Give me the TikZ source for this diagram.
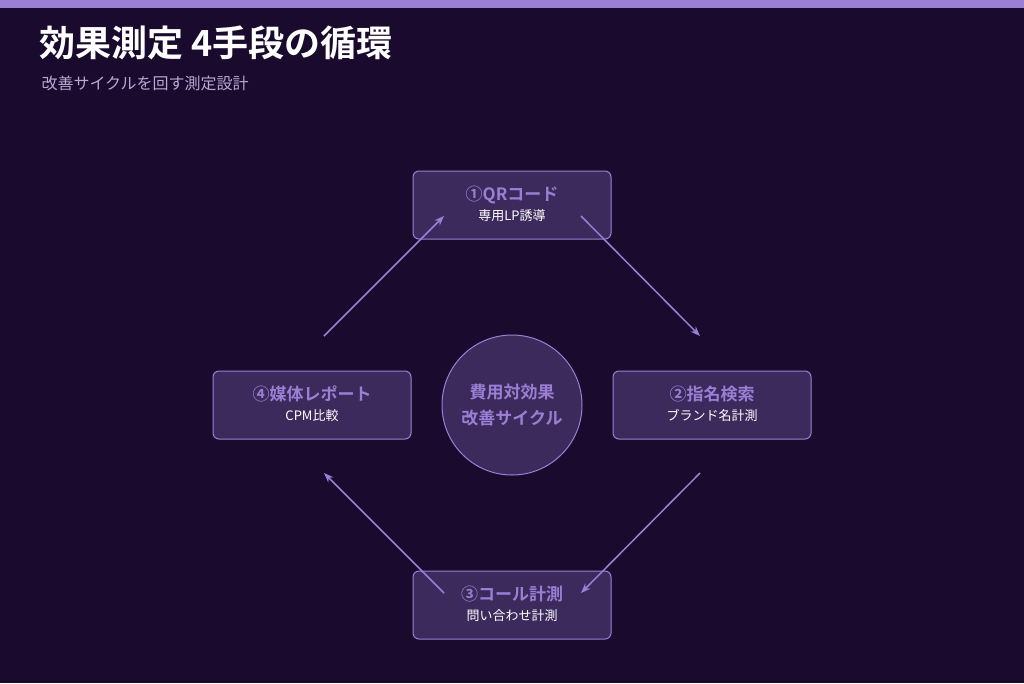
\documentclass[tikz,border=0pt]{standalone}
\usepackage{fontspec}
\setmainfont{Noto Sans CJK JP}[BoldFont={* Bold}]
\usetikzlibrary{arrows.meta, positioning}
\definecolor{bgc}{HTML}{1A0B2E}
\definecolor{boxc}{HTML}{3D2A5C}
\definecolor{linec}{HTML}{9B7FD4}
\definecolor{subc}{HTML}{B9A8D6}
\begin{document}
\begin{tikzpicture}[x=1pt,y=-1pt,>=Stealth,
  stage/.style={draw=linec,fill=boxc,rounded corners=6pt,line width=1pt,minimum width=198pt,minimum height=68pt,align=center,inner sep=0pt},
  hub/.style={circle,draw=linec,fill=boxc,line width=1pt,minimum size=140pt,align=center,text=linec,font=\bfseries\fontsize{17}{26}\selectfont},
  flow/.style={->,draw=linec,line width=1.5pt,shorten >=0pt}]
  \fill[bgc] (0,0) rectangle (1024,683);
  \fill[linec] (0,0) rectangle (1024,8);
  \useasboundingbox (0,0) rectangle (1024,683);
  \node[anchor=west,text=white,font=\bfseries\fontsize{36}{40}\selectfont] (title) at (36,43) {効果測定 4手段の循環};
  \node[anchor=west,text=subc,font=\fontsize{16}{19}\selectfont] (sub) at (38,83) {改善サイクルを回す測定設計};
  \newcommand{\stagetext}[2]{\raisebox{4pt}{\begin{tabular}{@{}c@{}}{\color{linec}\bfseries\fontsize{17}{20}\selectfont #1}\\[5pt]{\color{white}\fontsize{13}{15}\selectfont #2}\end{tabular}}}
  \node[stage] (qr) at (512,205) {\stagetext{①QRコード}{専用LP誘導}};
  \node[stage] (search) at (712,405) {\stagetext{②指名検索}{ブランド名計測}};
  \node[stage] (call) at (512,605) {\stagetext{③コール計測}{問い合わせ計測}};
  \node[stage] (report) at (312,405) {\stagetext{④媒体レポート}{CPM比較}};
  \node[hub] (hub) at (512,405) {費用対効果\\改善サイクル};
  % arrows
  \coordinate (a1) at (324,336); \coordinate (b1) at (444,216);
  \coordinate (a2) at (581,216); \coordinate (b2) at (700,336);
  \coordinate (a3) at (700,473); \coordinate (b3) at (581,593);
  \coordinate (a4) at (444,593); \coordinate (b4) at (324,473);
  \draw[flow] (a1) -- (b1);
  \draw[flow] (a2) -- (b2);
  \draw[flow] (a3) -- (b3);
  \draw[flow] (a4) -- (b4);
\end{tikzpicture}
\end{document}
